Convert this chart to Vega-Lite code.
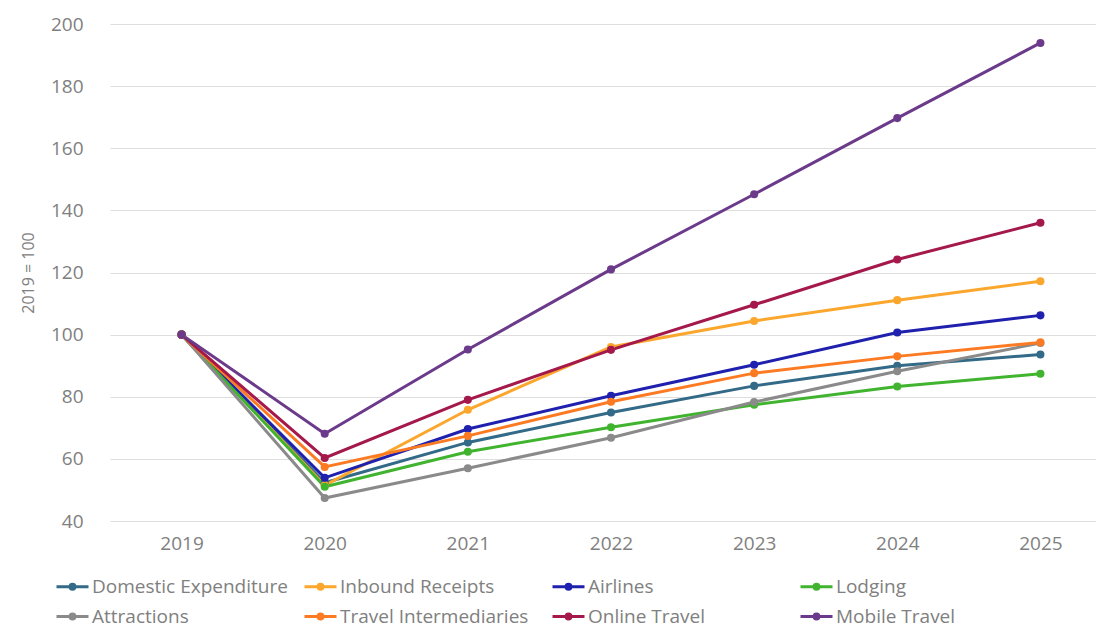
{
  "$schema": "https://vega.github.io/schema/vega-lite/v6.json",
  "width": 1002,
  "height": 497,
  "autosize": "none",
  "padding": {"left": 110, "top": 24, "right": 0, "bottom": 108},
  "background": "white",
  "config": {
    "font": "Open Sans",
    "view": {"stroke": null},
    "axis": {"labelColor": "#808080", "titleColor": "#808080", "labelFont": "Open Sans", "titleFont": "Open Sans"},
    "legend": {"labelFont": "Open Sans", "labelColor": "#808080"}
  },
  "data": {
    "values": [
      {"year": "2019", "series": "Domestic Expenditure", "value": 100},
      {"year": "2020", "series": "Domestic Expenditure", "value": 52.3},
      {"year": "2021", "series": "Domestic Expenditure", "value": 65.3},
      {"year": "2022", "series": "Domestic Expenditure", "value": 74.9},
      {"year": "2023", "series": "Domestic Expenditure", "value": 83.5},
      {"year": "2024", "series": "Domestic Expenditure", "value": 90.0},
      {"year": "2025", "series": "Domestic Expenditure", "value": 93.6},
      {"year": "2019", "series": "Inbound Receipts", "value": 100},
      {"year": "2020", "series": "Inbound Receipts", "value": 51.5},
      {"year": "2021", "series": "Inbound Receipts", "value": 75.8},
      {"year": "2022", "series": "Inbound Receipts", "value": 96.0},
      {"year": "2023", "series": "Inbound Receipts", "value": 104.4},
      {"year": "2024", "series": "Inbound Receipts", "value": 111.1},
      {"year": "2025", "series": "Inbound Receipts", "value": 117.2},
      {"year": "2019", "series": "Airlines", "value": 100},
      {"year": "2020", "series": "Airlines", "value": 53.9},
      {"year": "2021", "series": "Airlines", "value": 69.6},
      {"year": "2022", "series": "Airlines", "value": 80.3},
      {"year": "2023", "series": "Airlines", "value": 90.3},
      {"year": "2024", "series": "Airlines", "value": 100.7},
      {"year": "2025", "series": "Airlines", "value": 106.2},
      {"year": "2019", "series": "Lodging", "value": 100},
      {"year": "2020", "series": "Lodging", "value": 51.0},
      {"year": "2021", "series": "Lodging", "value": 62.3},
      {"year": "2022", "series": "Lodging", "value": 70.2},
      {"year": "2023", "series": "Lodging", "value": 77.4},
      {"year": "2024", "series": "Lodging", "value": 83.3},
      {"year": "2025", "series": "Lodging", "value": 87.4},
      {"year": "2019", "series": "Attractions", "value": 100},
      {"year": "2020", "series": "Attractions", "value": 47.4},
      {"year": "2021", "series": "Attractions", "value": 57.0},
      {"year": "2022", "series": "Attractions", "value": 66.8},
      {"year": "2023", "series": "Attractions", "value": 78.3},
      {"year": "2024", "series": "Attractions", "value": 88.2},
      {"year": "2025", "series": "Attractions", "value": 97.3},
      {"year": "2019", "series": "Travel Intermediaries", "value": 100},
      {"year": "2020", "series": "Travel Intermediaries", "value": 57.4},
      {"year": "2021", "series": "Travel Intermediaries", "value": 67.4},
      {"year": "2022", "series": "Travel Intermediaries", "value": 78.4},
      {"year": "2023", "series": "Travel Intermediaries", "value": 87.6},
      {"year": "2024", "series": "Travel Intermediaries", "value": 93.0},
      {"year": "2025", "series": "Travel Intermediaries", "value": 97.5},
      {"year": "2019", "series": "Online Travel", "value": 100},
      {"year": "2020", "series": "Online Travel", "value": 60.3},
      {"year": "2021", "series": "Online Travel", "value": 79.0},
      {"year": "2022", "series": "Online Travel", "value": 95.1},
      {"year": "2023", "series": "Online Travel", "value": 109.6},
      {"year": "2024", "series": "Online Travel", "value": 124.2},
      {"year": "2025", "series": "Online Travel", "value": 136.0},
      {"year": "2019", "series": "Mobile Travel", "value": 100},
      {"year": "2020", "series": "Mobile Travel", "value": 68.1},
      {"year": "2021", "series": "Mobile Travel", "value": 95.2},
      {"year": "2022", "series": "Mobile Travel", "value": 121.0},
      {"year": "2023", "series": "Mobile Travel", "value": 145.2},
      {"year": "2024", "series": "Mobile Travel", "value": 169.7},
      {"year": "2025", "series": "Mobile Travel", "value": 193.9}
    ]
  },
  "mark": {
    "type": "line",
    "strokeWidth": 3,
    "point": {"filled": true, "size": 65}
  },
  "encoding": {
    "x": {
      "field": "year",
      "type": "ordinal",
      "scale": {"type": "point", "padding": 0.5},
      "axis": {
        "title": null,
        "labelAngle": 0,
        "labelFontSize": 19,
        "labelPadding": 13,
        "domain": false,
        "ticks": false,
        "grid": false
      }
    },
    "y": {
      "field": "value",
      "type": "quantitative",
      "scale": {"domain": [40, 200], "nice": false, "zero": false},
      "axis": {
        "title": "2019 = 100",
        "titleFontSize": 16,
        "titleFontWeight": "normal",
        "titlePadding": 14,
        "values": [40, 60, 80, 100, 120, 140, 160, 180, 200],
        "labelFontSize": 19,
        "labelPadding": 27,
        "domain": false,
        "ticks": false,
        "grid": true,
        "gridColor": "#dedede",
        "gridWidth": 1
      }
    },
    "color": {
      "field": "series",
      "type": "nominal",
      "sort": null,
      "scale": {
        "domain": ["Domestic Expenditure", "Inbound Receipts", "Airlines", "Lodging", "Attractions", "Travel Intermediaries", "Online Travel", "Mobile Travel"],
        "range": ["#326a88", "#fba62c", "#1f20ae", "#41b42f", "#8a8a8a", "#fb7a22", "#a4184b", "#6b3a8b"]
      },
      "legend": {
        "title": null,
        "orient": "none",
        "legendX": -55,
        "legendY": 545,
        "direction": "horizontal",
        "columns": 4,
        "gridAlign": "all",
        "columnPadding": 10,
        "rowPadding": 2,
        "symbolType": "M-1,0H1M-0.15,0A0.15,0.15 0 1 1 0.15,0A0.15,0.15 0 1 1 -0.15,0",
        "symbolSize": 1024,
        "symbolStrokeWidth": 3,
        "labelFontSize": 19,
        "labelOffset": 2,
        "labelLimit": 300
      }
    }
  }
}
